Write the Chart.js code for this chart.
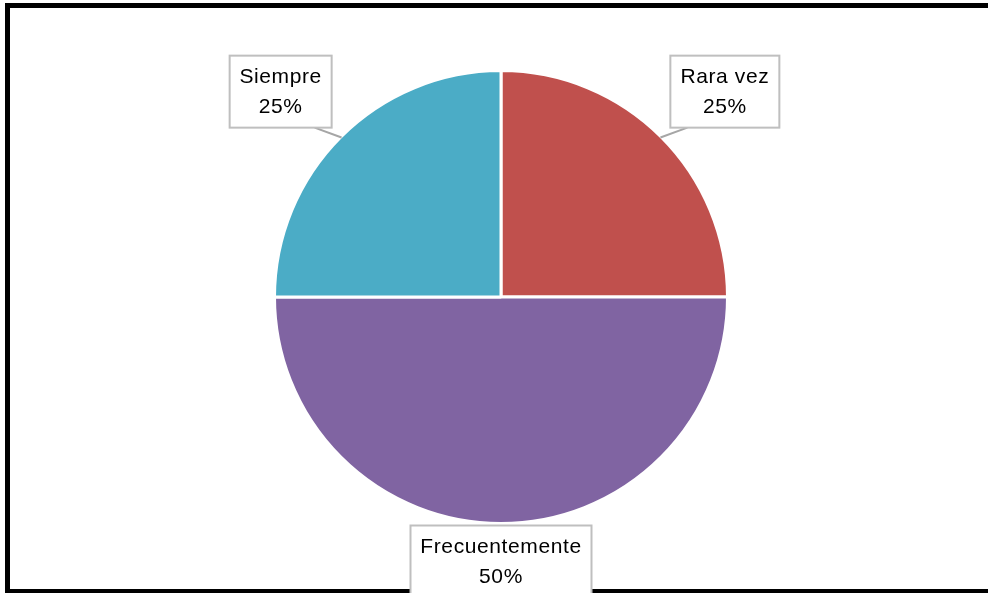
<!DOCTYPE html>
<html>
<head>
<meta charset="utf-8">
<script src="https://cdn.jsdelivr.net/npm/chart.js@4/dist/chart.umd.min.js"></script>
<style>
  html, body { margin: 0; padding: 0; background: #fff; }
  body { width: 988px; height: 593px; position: relative; overflow: hidden; }
  .frame {
    position: absolute; left: 5px; top: 3px; width: 1010px; height: 591px;
    box-sizing: border-box; border: 5px solid #000;
  }
  #wrap { position: absolute; left: 0; top: 0; width: 988px; height: 593px; }
</style>
</head>
<body>
<div class="frame"></div>
<div id="wrap"><canvas id="chart"></canvas></div>
<script>
// chart data
const categories = ['Rara vez', 'Frecuentemente', 'Siempre'];
const values = [25, 50, 25];
const percentLabels = ['25%', '50%', '25%'];
const sliceColors = ['#C0504D', '#8064A2', '#4BACC6'];

// how far outside the pie each callout box sits (px)
const calloutGap = [11, 0, 11];

const calloutPlugin = {
    id: 'callouts',
    afterDatasetsDraw(chart) {
        const ctx = chart.ctx;
        const meta = chart.getDatasetMeta(0);
        ctx.save();
        ctx.font = '21px "Liberation Sans", Arial, sans-serif';
        if ('letterSpacing' in ctx) ctx.letterSpacing = '0.6px';
        ctx.textAlign = 'center';
        ctx.textBaseline = 'middle';

        meta.data.forEach((arc, i) => {
            const { x, y, startAngle, endAngle, outerRadius } = arc.getProps(
                ['x', 'y', 'startAngle', 'endAngle', 'outerRadius'], true);
            const mid = (startAngle + endAngle) / 2;
            const cos = Math.cos(mid), sin = Math.sin(mid);
            const r = outerRadius + 2;

            const lines = [categories[i], percentLabels[i]];
            const textW = Math.max(...lines.map(t => ctx.measureText(t).width));
            const boxW = Math.round(textW + 20);
            const boxH = 72;

            // anchor at the box corner/edge nearest to the pie
            const ax = x + cos * (r + calloutGap[i]);
            const ay = y + sin * (r + calloutGap[i]);
            let bx, by;
            if (Math.abs(cos) < 0.2) bx = ax - boxW / 2;
            else bx = cos < 0 ? ax - boxW : ax;
            if (Math.abs(sin) < 0.2) by = ay - boxH / 2;
            else by = sin < 0 ? ay - boxH : ay;

            // leader line
            if (Math.abs(cos) >= 0.2) {
                const lx = cos < 0 ? bx + boxW - 17 : bx + 17;
                const ly = sin < 0 ? by + boxH : by;
                ctx.strokeStyle = '#A6A6A6';
                ctx.lineWidth = 2;
                ctx.beginPath();
                ctx.moveTo(lx, ly);
                ctx.lineTo(x + cos * (outerRadius - 1), y + sin * (outerRadius - 1));
                ctx.stroke();
            }

            ctx.fillStyle = '#fff';
            ctx.fillRect(bx, by, boxW, boxH);
            ctx.strokeStyle = '#BFBFBF';
            ctx.lineWidth = 2;
            ctx.strokeRect(bx, by, boxW, boxH);

            ctx.fillStyle = '#000';
            const cx = bx + boxW / 2, cy = by + boxH / 2;
            ctx.fillText(lines[0], cx, cy - 14);
            ctx.fillText(lines[1], cx, cy + 16);
        });
        ctx.restore();
    }
};

new Chart(document.getElementById('chart'), {
    type: 'pie',
    data: {
        labels: categories,
        datasets: [{
            data: values,
            backgroundColor: sliceColors,
            borderColor: '#ffffff',
            borderWidth: 3
        }]
    },
    options: {
        responsive: true,
        maintainAspectRatio: false,
        animation: false,
        layout: {
            padding: { top: 69, bottom: 68, left: 14, right: 0 }
        },
        plugins: {
            legend: { display: false },
            tooltip: { enabled: false }
        }
    },
    plugins: [calloutPlugin]
});
</script>
</body>
</html>
